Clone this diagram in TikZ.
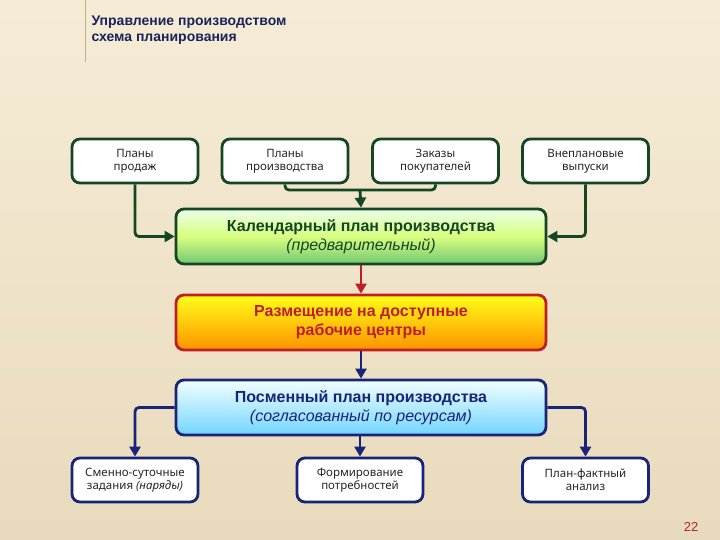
\documentclass[tikz,border=0pt]{standalone}
\usepackage{fontspec}
\setmainfont{Noto Sans}
\newfontfamily\titlef{Liberation Sans}
\usetikzlibrary{arrows.meta}
\definecolor{bg}{RGB}{246,236,214}
\definecolor{bgd}{RGB}{232,218,188}
\definecolor{gb}{RGB}{20,70,35}
\definecolor{rb}{RGB}{190,30,40}
\definecolor{bb}{RGB}{25,35,120}
\definecolor{tt}{RGB}{25,35,90}
\tikzset{
 box/.style={draw, line width=2.8pt, rounded corners=8pt, align=center, inner sep=0pt},
 small/.style={box, draw=gb, fill=white, minimum width=126pt, minimum height=44pt, font=\fontsize{11.5}{13}\selectfont, text=black!85},
 smallb/.style={small, draw=bb},
 big/.style={box, minimum width=370pt, minimum height=55pt, font=\titlef\fontsize{16}{19}\selectfont\bfseries},
 ar/.style={line width=2.8pt, -{Triangle[length=10pt,width=11pt]}},
}
\begin{document}
\begin{tikzpicture}[x=1pt,y=-1pt]
\shade[top color=bg, bottom color=bgd] (0,0) rectangle (720,540);
\useasboundingbox (0,0) rectangle (720,540);
\draw[bgd!80!black, line width=0.4pt] (85,0) -- (85,62);
\node[anchor=north west, align=left, text=tt, font=\titlef\bfseries\fontsize{14}{16.5}\selectfont] (title) at (88,12) {Управление производством\\схема планирования};
\node[text=rb, font=\titlef\fontsize{13}{15}\selectfont] (num) at (691,527) {22};
% top row
\node[small] (p1) at (135,161) {Планы\\продаж};
\node[small] (p2) at (285,161) {Планы\\производства};
\node[small] (p3) at (435.5,161) {Заказы\\покупателей};
\node[small] (p4) at (585.5,161) {Внеплановые\\выпуски};
\node[big, draw=gb, text=gb, top color=green!8!white, bottom color=green!60!black!55!white, middle color=green!30!yellow!50!white] (cal) at (361,236.5) {Календарный план производства\\{\mdseries\itshape (предварительный)}};
\node[big, draw=rb, text=rb, top color=yellow!90!white, bottom color=orange!85!yellow] (raz) at (361,322.5) {Размещение на доступные\\рабочие центры};
\node[big, draw=bb, text=bb, top color=cyan!5!white, bottom color=cyan!70!blue!55!white] (pos) at (361,407.5) {Посменный план производства\\{\mdseries\itshape (согласованный по ресурсам)}};
\node[smallb] (b1) at (135,480) {Сменно-суточные\\задания {\itshape (наряды)}};
\node[smallb] (b2) at (360,480) {Формирование\\потребностей};
\node[smallb] (b3) at (585.5,480) {План-фактный\\анализ};
\coordinate (j) at (360,190);
\draw[ar, gb, rounded corners=4pt] (p1.south) |- (cal.west);
\draw[ar, gb, rounded corners=4pt] (p4.south) |- (cal.east);
\draw[line width=2.8pt, gb, rounded corners=4pt] (p2.south) |- (j) -| (p3.south);
\draw[ar, gb] (j) -- (cal.north);
\draw[ar, rb] (cal.south) -- (raz.north);
\draw[ar, bb] (raz.south) -- (pos.north);
\draw[ar, bb, rounded corners=4pt] (pos.west) -| (b1.north);
\draw[ar, bb, rounded corners=4pt] (pos.east) -| (b3.north);
\draw[ar, bb] (pos.south -| b2.north) -- (b2.north);
\end{tikzpicture}
\end{document}
